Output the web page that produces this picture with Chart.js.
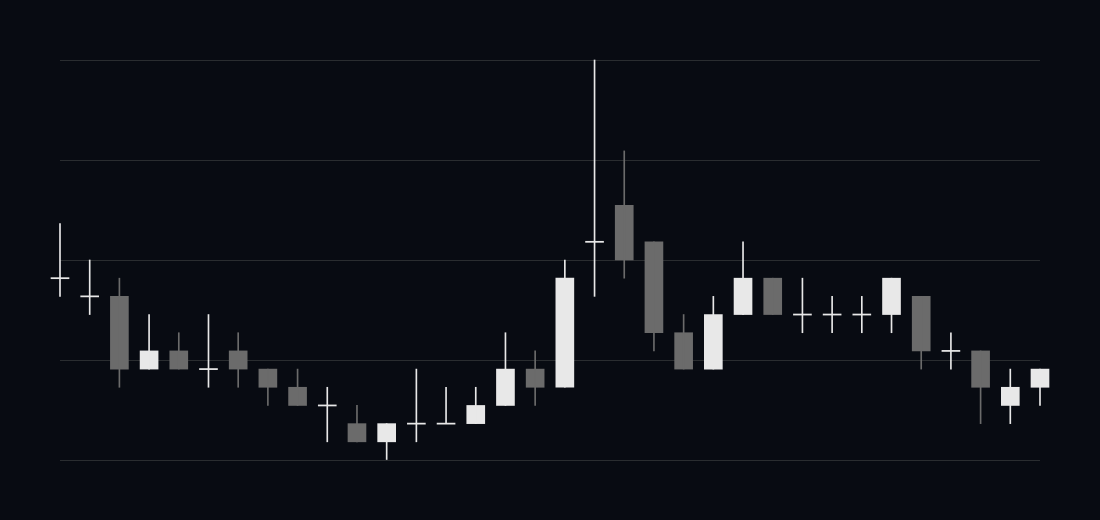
<!DOCTYPE html>
<html><head><meta charset="utf-8">
<script src="https://cdn.jsdelivr.net/npm/chart.js@4/dist/chart.umd.min.js"></script>
<style>html,body{margin:0;background:#080b12;}#w{width:1100px;height:520px;}</style>
</head><body><div id="w"><canvas id="c"></canvas></div>
<script>
const opens  = [10,9,9,5,6,5,6,5,4,3,2,1,2,2,2,3,5,4,12,14,12,7,5,8,10,8,8,8,8,9,6,6,3,4];
const closes = [10,9,5,6,5,5,5,4,3,3,1,2,2,2,3,5,4,10,12,11,7,5,8,10,8,8,8,8,10,6,6,4,4,5];
const highs  = [13,11,10,8,7,8,7,5,5,4,3,2,5,4,4,7,6,11,22,17,12,8,9,12,10,10,9,9,10,9,7,6,5,5];
const lows   = [9,8,4,5,5,4,4,3,3,1,1,0,1,2,2,3,3,4,9,10,6,5,5,8,8,7,7,7,7,5,5,2,2,3];
const UP='#e8e8e8', DOWN='#6b6b6b';
const col = opens.map((o,i)=> closes[i]<o ? DOWN : UP);
const bodies = opens.map((o,i)=>{const lo=Math.min(o,closes[i]),hi=Math.max(o,closes[i]);return {x:i,y: hi===lo?[lo-0.03,lo+0.03]:[lo,hi]};});
const wicks = highs.map((h,i)=>({x:i,y:[lows[i],h]}));
new Chart(document.getElementById('c'),{
  type:'bar',
  data:{datasets:[
    {data:wicks,backgroundColor:col,barThickness:1,grouped:false,clip:false},
    {data:bodies,backgroundColor:col,barThickness:18,grouped:false,clip:false}
  ]},
  options:{responsive:true,maintainAspectRatio:false,animation:false,
    layout:{padding:{left:60,right:60,top:60,bottom:60}},
    plugins:{legend:{display:false},tooltip:{enabled:false}},
    scales:{
      x:{type:'linear',min:0,max:33,offset:false,display:false},
      y:{min:0,max:22,afterBuildTicks:a=>{a.ticks=[0,5.5,11,16.5,22].map(v=>({value:v}));},
         ticks:{display:false},border:{display:false},
         grid:{color:'#2a2d30',drawTicks:false}}
    }}
});
</script></body></html>
